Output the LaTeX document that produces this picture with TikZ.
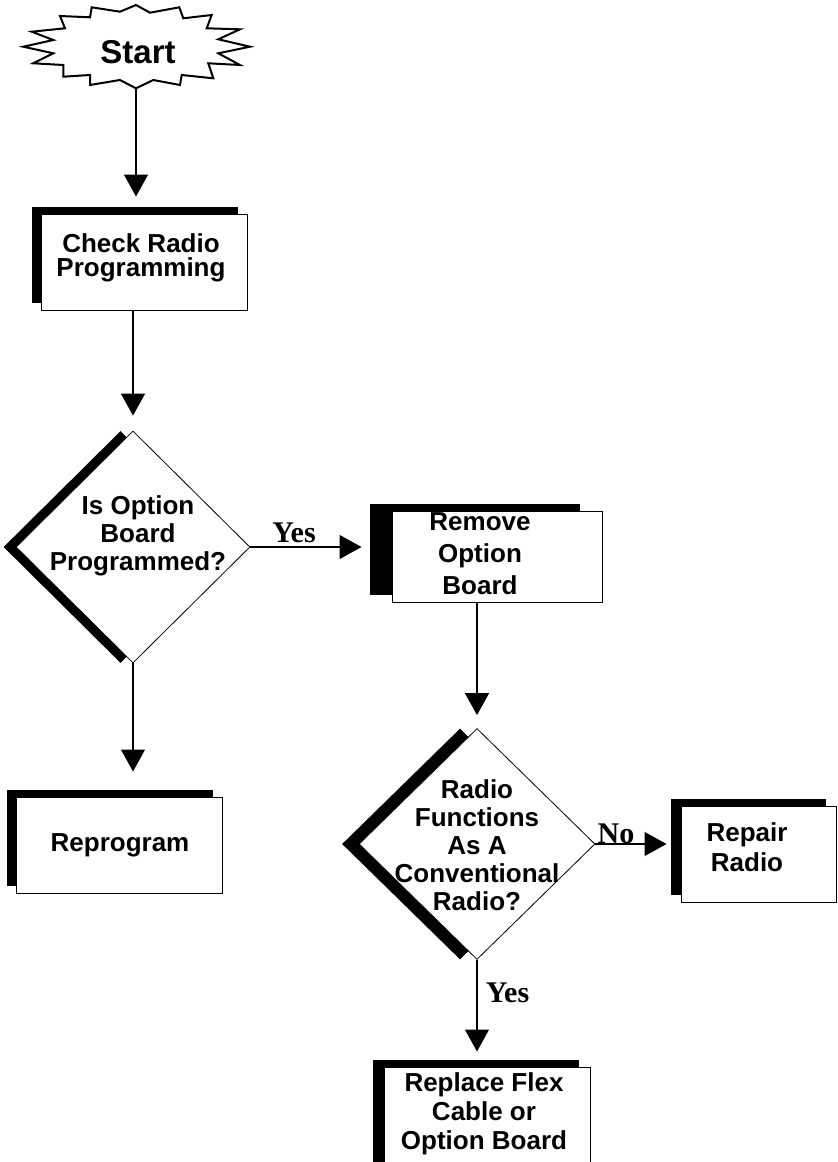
\documentclass[tikz,border=0pt]{standalone}
\usepackage{fontspec}
\setmainfont{Liberation Serif}
\setsansfont{Liberation Sans}
\usetikzlibrary{arrows.meta}
\usetikzlibrary{shapes.geometric}
\usetikzlibrary{shadows}

\begin{document}
\begin{tikzpicture}[x=0.5pt, y=-0.5pt,
        flow/.style={line width=0.6pt, -{Triangle[length=11pt, width=12pt]}},
        procbox/.style={draw, line width=0.5pt, fill=white, inner sep=0pt,
            minimum width=103pt, minimum height=48pt,
            drop shadow={shadow xshift=-#1, shadow yshift=3.5pt, fill=black, opacity=1}},
        procbox/.default=4.5pt,
        decision/.style={diamond, draw, line width=0.4pt, fill=white, inner sep=0pt,
            minimum width=117pt, minimum height=116pt,
            drop shadow={shadow xshift=-#1, shadow yshift=0pt, fill=black, opacity=1}},
        decision/.default=6.25pt,
        boxtext/.style={align=center, inner sep=0pt, font=\sffamily\bfseries\fontsize{13}{14.5}\selectfont},
        answer/.style={inner sep=0pt, font=\rmfamily\bfseries\fontsize{15}{17}\selectfont}]

        \useasboundingbox (0,0) rectangle (838,1162);

        \draw[line width=1pt, fill=white] (136,5) -- (150,12.7) -- (179.3,7.3) -- (183.3,18.3)
            -- (211.7,15) -- (206.7,28.3) -- (240,29.3) -- (218.3,39.3) -- (250,46.7)
            -- (218.3,53.3) -- (240,65) -- (208.3,63.3) -- (213.3,78.3) -- (181.7,75)
            -- (180,85) -- (153.3,80) -- (136,88.3) -- (120,80) -- (90,85) -- (90,75)
            -- (63.3,76.7) -- (63.3,65) -- (33.3,63.3) -- (53.3,53.3) -- (23.3,46.7)
            -- (53.3,40) -- (31.7,31.7) -- (65,28.3) -- (60,16) -- (90,17.3)
            -- (91.7,7.3) -- (120,11.7) -- cycle;
        \node[boxtext, font=\sffamily\bfseries\fontsize{16.5}{18}\selectfont] (start) at (138,52.5) {Start};
        \coordinate (starttip) at (136,88.3);

        \node[procbox] (check) at (144,262) {};
        \node[boxtext, font=\sffamily\bfseries\fontsize{13}{11.8}\selectfont] (checktext) at (141,258) {Check Radio\\Programming};

        \node[decision] (optprog) at (133,547) {};
        \node[boxtext, font=\sffamily\bfseries\fontsize{13}{14}\selectfont] (optprogtext) at (138,536) {Is Option\\Board\\Programmed?};

        \node[procbox] (reprog) at (119,845) {};
        \node[boxtext] (reprogtext) at (120,845) {Reprogram};

        \node[procbox=11pt, minimum width=105pt, minimum height=45.5pt] (remove) at (497,556.5) {};
        \node[boxtext, font=\sffamily\bfseries\fontsize{13}{16}\selectfont] (removetext) at (480,554) {Remove\\Option\\Board};

        \node[decision=8.5pt, minimum width=118pt, minimum height=115.5pt] (conv) at (477,844) {};
        \node[boxtext, font=\sffamily\bfseries\fontsize{13}{14}\selectfont] (convtext) at (477,845) {Radio\\Functions\\As A\\Conventional\\Radio?};

        \node[procbox=5pt, minimum width=77.5pt] (repair) at (758.5,854) {};
        \node[boxtext, font=\sffamily\bfseries\fontsize{13}{15}\selectfont] (repairtext) at (747,847) {Repair\\Radio};

        \node[procbox=5.5pt, minimum height=55pt] (replace) at (487,1122) {};
        \node[boxtext] (replacetext) at (484,1114) {Replace Flex\\Cable or\\Option Board};

        \draw[flow, shorten >=8.5pt] (starttip) -- (check.north -| starttip);
        \draw[flow, shorten >=7.5pt] (check.south -| optprog.north) -- (optprog.north);
        \draw[flow, shorten >=12.5pt] (optprog.south) -- (optprog.south |- reprog.north);
        \draw[flow, shorten >=15pt] (optprog.east) -- (optprog.east -| remove.west);
        \draw[flow, shorten >=6.5pt] (remove.south -| conv.north) -- (conv.north);
        \draw[flow, shorten >=7pt] (conv.east) -- (conv.east -| repair.west);
        \draw[flow, shorten >=7.5pt] (conv.south) -- (conv.south |- replace.north);

        \node[answer] (yesopt) at (294,533) {Yes};
        \node[answer] (noconv) at (616,833.5) {No};
        \node[answer] (yesconv) at (507.5,992.5) {Yes};
    \end{tikzpicture}
\end{document}
